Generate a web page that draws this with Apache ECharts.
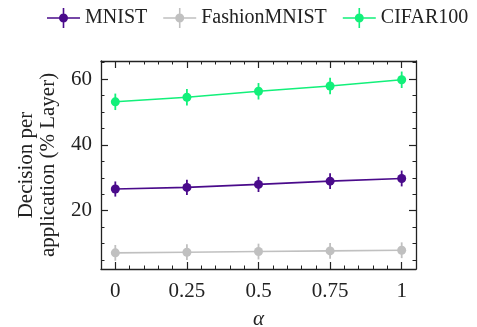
<!DOCTYPE html>
<html>
<head>
<meta charset="utf-8">
<script src="https://cdn.jsdelivr.net/npm/echarts@6/dist/echarts.min.js"></script>
<style>html,body{margin:0;padding:0;background:#fff}#c{width:477px;height:327px}</style>
</head>
<body>
<div id="c"></div>
<script>
const alphas = [0, 0.25, 0.5, 0.75, 1];
const xTickLabels = ['0', '0.25', '0.5', '0.75', '1'];
const yMajorTicks = [20, 40, 60];
const yMinorTicks = [5, 10, 15, 20, 25, 30, 35, 40, 45, 50, 55, 60, 65];
const xMinorTicks = [-0.05, 0, 0.05, 0.1, 0.15, 0.2, 0.25, 0.3, 0.35, 0.4, 0.45, 0.5, 0.55, 0.6, 0.65, 0.7, 0.75, 0.8, 0.85, 0.9, 0.95, 1, 1.05];
const seriesNames = ['MNIST', 'FashionMNIST', 'CIFAR100'];
const mnist = [26.6, 27.1, 28.0, 29.0, 29.8];
const fashion = [7.2, 7.4, 7.6, 7.8, 8.0];
const cifar = [53.1, 54.5, 56.3, 57.9, 59.8];
const mnistErr = [2.3, 2.3, 2.3, 2.4, 2.4];
const fashionErr = [2.4, 2.4, 2.4, 2.4, 2.4];
const cifarErr = [2.5, 2.5, 2.5, 2.5, 2.5];
const colors = ['#4a0b8b', '#c0c0c0', '#12f07a'];

const FONT = 'Liberation Serif';
const values = [mnist, fashion, cifar];
const errs = [mnistErr, fashionErr, cifarErr];
const icon = 'path://M0 9.2L33 9.2L33 10.8L0 10.8Z M15.7 0L17.3 0L17.3 20L15.7 20Z M12 10A4.5 4.5 0 1 1 21 10A4.5 4.5 0 1 1 12 10Z';

const series = [];
values.forEach((v, i) => {
  series.push({
    type: 'custom',
    name: seriesNames[i] + '_err',
    xAxisIndex: 0, yAxisIndex: 0,
    data: alphas.map((a, k) => [a, v[k] - errs[i][k], v[k] + errs[i][k]]),
    renderItem: function (params, api) {
      const p1 = api.coord([api.value(0), api.value(1)]);
      const p2 = api.coord([api.value(0), api.value(2)]);
      return {type: 'line', shape: {x1: p1[0], y1: p1[1], x2: p2[0], y2: p2[1]},
        style: {stroke: colors[i], lineWidth: 1.8}};
    },
    z: 2, silent: true
  });
  series.push({
    type: 'line',
    name: seriesNames[i],
    xAxisIndex: 0, yAxisIndex: 0,
    data: alphas.map((a, k) => [a, v[k]]),
    symbol: 'circle', symbolSize: 9,
    color: colors[i],
    itemStyle: {color: colors[i]},
    lineStyle: {color: colors[i], width: 1.6},
    z: 3, animation: false
  });
});

const axisLine = {show: true, onZero: false, lineStyle: {color: '#222', width: 1.3}};
const noLine = {show: false, onZero: false};
const baseX = {type: 'value', min: -0.05, max: 1.05, splitLine: {show: false}};
const baseY = {type: 'value', min: 2.3, max: 65.5, splitLine: {show: false}};

const option = {
  animation: false,
  grid: {left: 101, right: 61, top: 61, bottom: 58, outerBoundsMode: 'none', containLabel: false},
  legend: {
    data: seriesNames.map(n => ({name: n, icon: icon})),
    top: 3, left: 42,
    itemWidth: 33, itemHeight: 20, itemGap: 16,
    textStyle: {fontFamily: FONT, fontSize: 20, color: '#222'}
  },
  xAxis: [
    Object.assign({}, baseX, {position: 'bottom', axisLine: axisLine,
      name: 'α', nameLocation: 'middle', nameGap: 40,
      nameTextStyle: {fontFamily: FONT, fontSize: 21, color: '#222', fontStyle: 'italic'},
      axisTick: {show: true, inside: true, length: 7, customValues: alphas, lineStyle: {color: '#222', width: 1.2}},
      axisLabel: {show: true, customValues: alphas, margin: 12, fontFamily: FONT, fontSize: 21, color: '#222',
        formatter: v => xTickLabels[alphas.indexOf(v)] }}),
    Object.assign({}, baseX, {position: 'bottom', axisLine: noLine,
      axisTick: {show: true, inside: true, length: 3.5, customValues: xMinorTicks, lineStyle: {color: '#222', width: 1}},
      axisLabel: {show: false}}),
    Object.assign({}, baseX, {position: 'top', axisLine: axisLine,
      axisTick: {show: true, inside: true, length: 7, customValues: alphas, lineStyle: {color: '#222', width: 1.2}},
      axisLabel: {show: false}}),
    Object.assign({}, baseX, {position: 'top', axisLine: noLine,
      axisTick: {show: true, inside: true, length: 3.5, customValues: xMinorTicks, lineStyle: {color: '#222', width: 1}},
      axisLabel: {show: false}})
  ],
  yAxis: [
    Object.assign({}, baseY, {position: 'left', axisLine: axisLine,
      name: 'Decision per\napplication (% Layer)', nameLocation: 'middle', nameRotate: 90, nameGap: 42,
      nameTextStyle: {fontFamily: FONT, fontSize: 21, color: '#222', lineHeight: 22},
      axisTick: {show: true, inside: true, length: 7, customValues: yMajorTicks, lineStyle: {color: '#222', width: 1.2}},
      axisLabel: {show: true, customValues: yMajorTicks, margin: 9, fontFamily: FONT, fontSize: 21, color: '#222'}}),
    Object.assign({}, baseY, {position: 'left', axisLine: noLine,
      axisTick: {show: true, inside: true, length: 3.5, customValues: yMinorTicks, lineStyle: {color: '#222', width: 1}},
      axisLabel: {show: false}}),
    Object.assign({}, baseY, {position: 'right', axisLine: axisLine,
      axisTick: {show: true, inside: true, length: 7, customValues: yMajorTicks, lineStyle: {color: '#222', width: 1.2}},
      axisLabel: {show: false}}),
    Object.assign({}, baseY, {position: 'right', axisLine: noLine,
      axisTick: {show: true, inside: true, length: 3.5, customValues: yMinorTicks, lineStyle: {color: '#222', width: 1}},
      axisLabel: {show: false}})
  ],
  series: series
};
const chart = echarts.init(document.getElementById('c'));
chart.setOption(option);
</script>
</body>
</html>
